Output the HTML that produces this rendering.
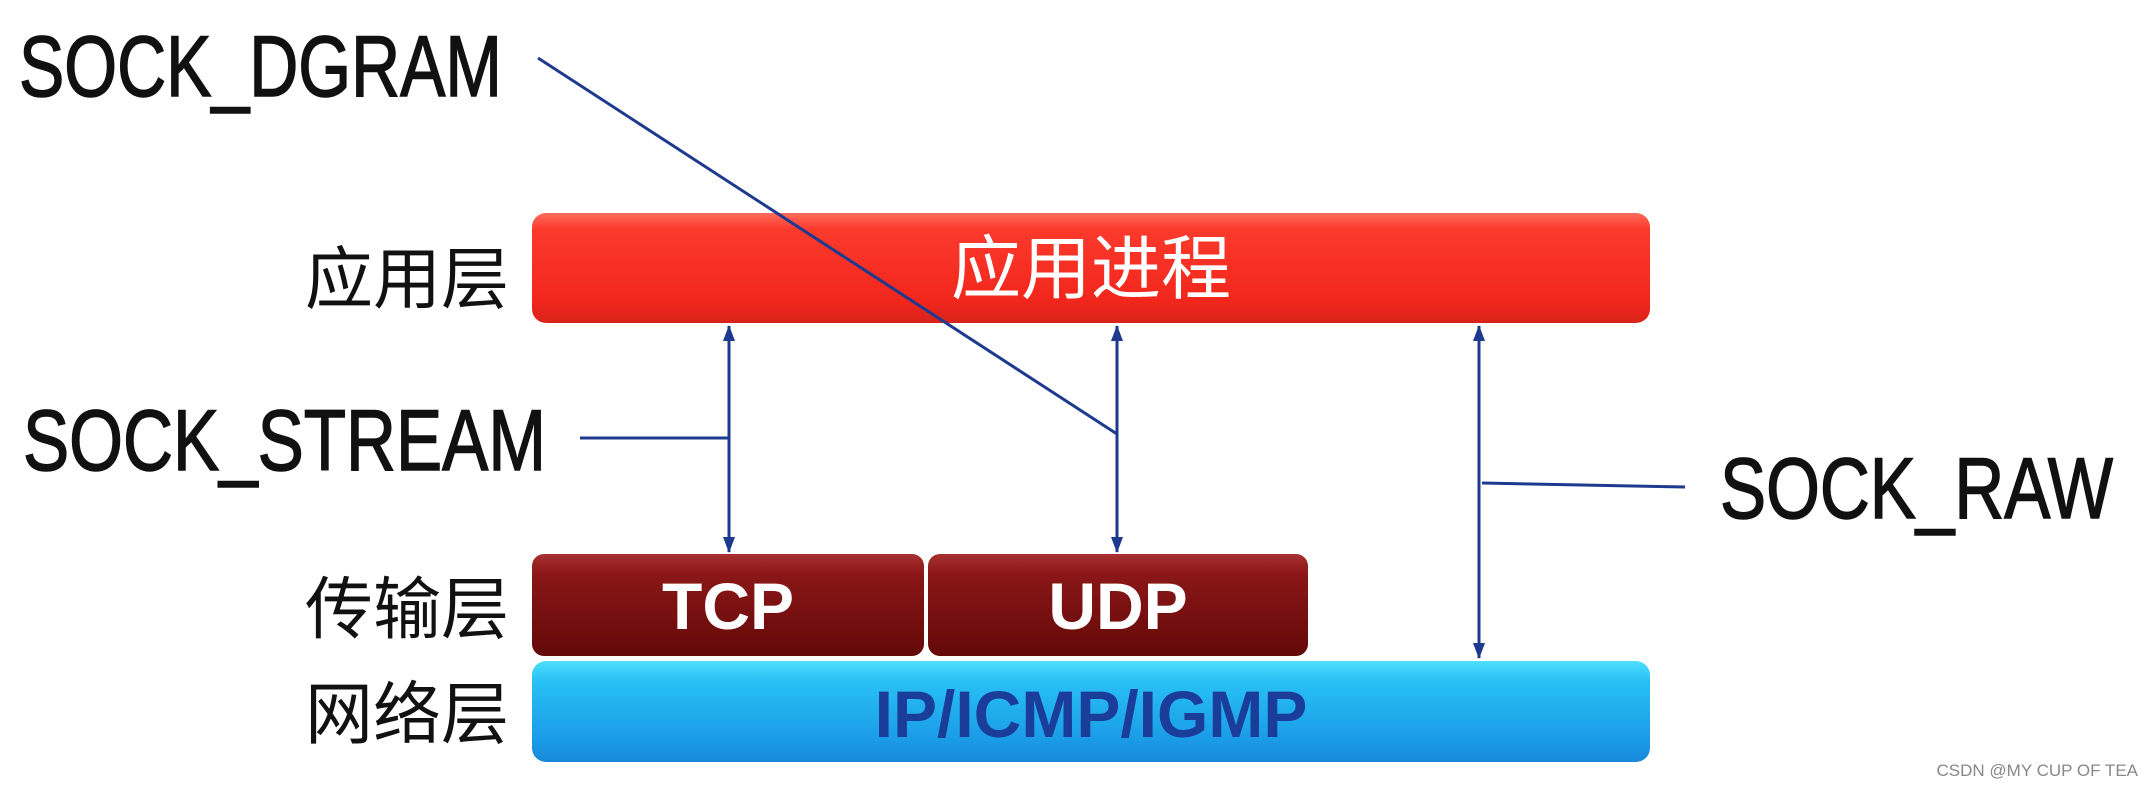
<!DOCTYPE html>
<html><head><meta charset="utf-8"><style>
html,body{margin:0;padding:0;background:#fff;}
svg{display:block}
</style></head><body>
<svg width="2152" height="786" viewBox="0 0 2152 786" xmlns="http://www.w3.org/2000/svg">
<defs>
<linearGradient id="red" x1="0" y1="0" x2="0" y2="1">
<stop offset="0" stop-color="#ff6a5c"/><stop offset="0.15" stop-color="#fb3a2c"/><stop offset="0.8" stop-color="#f2261c"/><stop offset="1" stop-color="#d8231a"/></linearGradient>
<linearGradient id="dred" x1="0" y1="0" x2="0" y2="1">
<stop offset="0" stop-color="#a83030"/><stop offset="0.2" stop-color="#8a1717"/><stop offset="1" stop-color="#640808"/></linearGradient>
<linearGradient id="blue" x1="0" y1="0" x2="0" y2="1">
<stop offset="0" stop-color="#4fe0ff"/><stop offset="0.2" stop-color="#28c0f4"/><stop offset="0.8" stop-color="#1a9ae6"/><stop offset="1" stop-color="#1788d8"/></linearGradient>
<marker id="ah" markerWidth="16" markerHeight="16" refX="15" refY="8" orient="auto-start-reverse" markerUnits="userSpaceOnUse" viewBox="0 0 16 16">
<path d="M0,2 L16,8 L0,14 z" fill="#1d3a8f"/></marker>
</defs>
<g font-family="Liberation Sans, sans-serif" fill="#111" stroke="#111" stroke-width="1.5">
<text x="19" y="96" font-size="86" textLength="483" lengthAdjust="spacingAndGlyphs">SOCK_DGRAM</text>
<text x="23" y="470" font-size="86" textLength="523" lengthAdjust="spacingAndGlyphs">SOCK_STREAM</text>
<text x="1720" y="518" font-size="86" textLength="393" lengthAdjust="spacingAndGlyphs">SOCK_RAW</text>
</g>
<g font-family="Liberation Sans, 'Noto Sans CJK SC', sans-serif" font-size="68" fill="#111">
<text x="305" y="303">应用层</text>
<text x="305" y="633">传输层</text>
<text x="305" y="738">网络层</text>
</g>
<rect x="532" y="213" width="1118" height="110" rx="14" fill="url(#red)"/>
<rect x="532" y="554" width="392" height="102" rx="12" fill="url(#dred)"/>
<rect x="928" y="554" width="380" height="102" rx="12" fill="url(#dred)"/>
<rect x="532" y="661" width="1118" height="101" rx="14" fill="url(#blue)"/>
<text x="1091" y="293" font-family="Liberation Sans, 'Noto Sans CJK SC', sans-serif" font-size="70" fill="#fff" text-anchor="middle">应用进程</text>
<g font-family="Liberation Sans, sans-serif" font-weight="bold" font-size="66" text-anchor="middle">
<text x="728" y="629" fill="#fff">TCP</text>
<text x="1118" y="629" fill="#fff">UDP</text>
<text x="1091" y="737" fill="#1a3d9a">IP/ICMP/IGMP</text>
</g>
<g stroke="#1d3a8f" stroke-width="3" fill="none">
<line x1="729" y1="326" x2="729" y2="552" marker-start="url(#ah)" marker-end="url(#ah)"/>
<line x1="1117" y1="326" x2="1117" y2="552" marker-start="url(#ah)" marker-end="url(#ah)"/>
<line x1="1479" y1="326" x2="1479" y2="658" marker-start="url(#ah)" marker-end="url(#ah)"/>
<line x1="580" y1="438" x2="729" y2="438"/>
<line x1="538" y1="58" x2="1117" y2="434"/>
<line x1="1482" y1="483" x2="1685" y2="487"/>
</g>
<text x="2138" y="776" font-family="Liberation Sans, sans-serif" font-size="17" fill="#888" text-anchor="end">CSDN @MY CUP OF TEA</text>
</svg>
</body></html>
